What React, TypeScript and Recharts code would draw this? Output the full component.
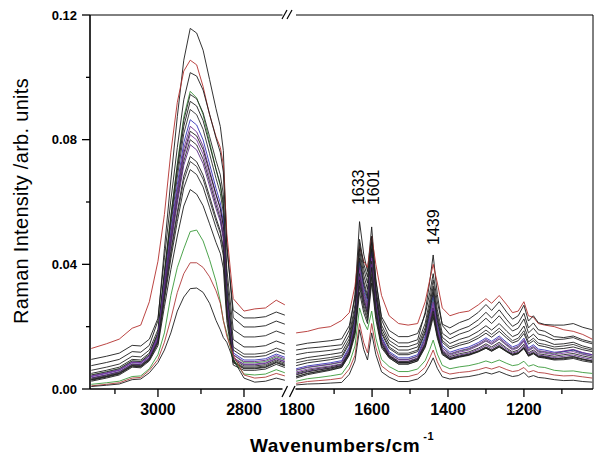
import React from 'react';
import { LineChart, Line, XAxis, YAxis, ReferenceLine, ReferenceDot } from 'recharts';

// wavenumber grids (cm-1) of the two axis segments
const leftWavenumbers = [3155, 3120, 3090, 3060, 3040, 3020, 3000, 2985, 2970, 2955, 2940, 2925, 2910, 2895, 2880, 2865, 2855, 2848, 2840, 2825, 2800, 2775, 2750, 2725, 2705];
const rightWavenumbers = [1800, 1770, 1740, 1710, 1680, 1660, 1645, 1633, 1622, 1612, 1601, 1590, 1575, 1555, 1530, 1505, 1480, 1460, 1448, 1439, 1428, 1415, 1395, 1370, 1345, 1320, 1300, 1285, 1265, 1245, 1230, 1215, 1200, 1188, 1175, 1162, 1145, 1120, 1095, 1070, 1045, 1020];

// Raman intensity of each spectrum, high-wavenumber segment
const leftSpectra: number[][] = [
  [0.0075, 0.0085, 0.0095, 0.012, 0.0118, 0.014, 0.0219, 0.045, 0.0671, 0.0874, 0.1055, 0.1157, 0.1142, 0.1087, 0.0993, 0.0899, 0.0842, 0.0765, 0.0471, 0.0229, 0.0199, 0.0199, 0.0203, 0.0218, 0.0208],
  [0.013, 0.0145, 0.016, 0.0195, 0.0205, 0.028, 0.041, 0.056, 0.076, 0.092, 0.102, 0.1055, 0.104, 0.097, 0.088, 0.081, 0.0775, 0.072, 0.05, 0.029, 0.025, 0.0257, 0.026, 0.0285, 0.027],
  [0.0095, 0.0105, 0.0115, 0.014, 0.0138, 0.016, 0.0227, 0.0421, 0.0606, 0.0775, 0.0928, 0.1015, 0.1004, 0.0959, 0.0882, 0.0805, 0.0759, 0.0696, 0.0453, 0.0253, 0.0228, 0.0228, 0.0232, 0.0247, 0.0237],
  [0.0045, 0.0055, 0.0065, 0.009, 0.0088, 0.011, 0.018, 0.0372, 0.0556, 0.0723, 0.0873, 0.0955, 0.0934, 0.088, 0.0792, 0.0704, 0.0651, 0.0582, 0.0325, 0.011, 0.0084, 0.0084, 0.0088, 0.0103, 0.0093],
  [0.006, 0.007, 0.008, 0.0105, 0.0103, 0.0125, 0.0191, 0.0377, 0.0554, 0.0716, 0.0862, 0.0945, 0.0931, 0.0886, 0.081, 0.0733, 0.0687, 0.0625, 0.0387, 0.0191, 0.0167, 0.0167, 0.0171, 0.0186, 0.0176],
  [0.005, 0.006, 0.007, 0.0095, 0.0093, 0.0115, 0.0181, 0.0364, 0.054, 0.07, 0.0843, 0.0923, 0.0908, 0.0861, 0.0783, 0.0705, 0.0657, 0.0595, 0.0356, 0.0159, 0.0135, 0.0135, 0.0139, 0.0154, 0.0144],
  [0.0045, 0.0055, 0.0065, 0.009, 0.0088, 0.011, 0.0175, 0.0353, 0.0525, 0.068, 0.0819, 0.0897, 0.088, 0.0833, 0.0755, 0.0676, 0.0628, 0.0565, 0.0331, 0.0135, 0.0112, 0.0112, 0.0116, 0.0131, 0.0121],
  [0.004, 0.005, 0.006, 0.0085, 0.0083, 0.0105, 0.0168, 0.034, 0.0505, 0.0656, 0.079, 0.0864, 0.0847, 0.0799, 0.0722, 0.0644, 0.0597, 0.0536, 0.0307, 0.0116, 0.0093, 0.0093, 0.0097, 0.0112, 0.0102],
  [0.0042, 0.0052, 0.0062, 0.0087, 0.0085, 0.0107, 0.0169, 0.0336, 0.0496, 0.0641, 0.0771, 0.0843, 0.0825, 0.0779, 0.0702, 0.0626, 0.058, 0.052, 0.0297, 0.011, 0.0088, 0.0088, 0.0092, 0.0107, 0.0097],
  [0.0035, 0.0045, 0.0055, 0.008, 0.0078, 0.01, 0.016, 0.0325, 0.0483, 0.0626, 0.0756, 0.0827, 0.0812, 0.0768, 0.0695, 0.0623, 0.0579, 0.0522, 0.0306, 0.0125, 0.0103, 0.0103, 0.0107, 0.0122, 0.0112],
  [0.004, 0.005, 0.006, 0.0085, 0.0083, 0.0105, 0.0165, 0.0327, 0.0481, 0.0622, 0.0747, 0.0816, 0.0799, 0.0753, 0.0678, 0.0604, 0.0559, 0.05, 0.0283, 0.0101, 0.008, 0.008, 0.0084, 0.0099, 0.0089],
  [0.003, 0.004, 0.005, 0.0075, 0.0073, 0.0095, 0.0155, 0.0314, 0.0468, 0.0607, 0.0731, 0.08, 0.0783, 0.0737, 0.0665, 0.0591, 0.0546, 0.0489, 0.0275, 0.0095, 0.0074, 0.0074, 0.0078, 0.0093, 0.0083],
  [0.0035, 0.0045, 0.0055, 0.008, 0.0078, 0.01, 0.0158, 0.0313, 0.0463, 0.0597, 0.0718, 0.0784, 0.0767, 0.0723, 0.0651, 0.0579, 0.0537, 0.048, 0.0273, 0.0099, 0.0078, 0.0078, 0.0082, 0.0097, 0.0087],
  [0.003, 0.004, 0.005, 0.0075, 0.0073, 0.0095, 0.0151, 0.0299, 0.0441, 0.0568, 0.0683, 0.0746, 0.0729, 0.0686, 0.0618, 0.0549, 0.0507, 0.0453, 0.0254, 0.0087, 0.0067, 0.0067, 0.0071, 0.0086, 0.0076],
  [0.0032, 0.0042, 0.0052, 0.0077, 0.0075, 0.0097, 0.0152, 0.0296, 0.0433, 0.0558, 0.0669, 0.073, 0.0714, 0.0673, 0.0606, 0.0539, 0.0499, 0.0446, 0.0252, 0.0089, 0.007, 0.007, 0.0074, 0.0089, 0.0079],
  [0.0028, 0.0038, 0.0048, 0.0073, 0.0071, 0.0093, 0.0146, 0.0285, 0.0418, 0.0537, 0.0645, 0.0704, 0.0688, 0.0648, 0.0583, 0.0518, 0.0479, 0.0428, 0.0241, 0.0084, 0.0065, 0.0065, 0.0069, 0.0084, 0.0074],
  [0.0025, 0.0035, 0.0045, 0.007, 0.0068, 0.009, 0.0139, 0.0264, 0.0383, 0.0491, 0.0587, 0.064, 0.0625, 0.0588, 0.053, 0.047, 0.0435, 0.0388, 0.0219, 0.0077, 0.006, 0.006, 0.0064, 0.0079, 0.0069],
  [0.0015, 0.002, 0.0025, 0.004, 0.0042, 0.0065, 0.011, 0.018, 0.03, 0.039, 0.045, 0.0505, 0.051, 0.0475, 0.0415, 0.0345, 0.028, 0.022, 0.018, 0.0095, 0.0048, 0.0045, 0.0048, 0.0062, 0.0052],
  [0.001, 0.0015, 0.002, 0.0035, 0.0037, 0.006, 0.0095, 0.015, 0.0225, 0.031, 0.037, 0.0405, 0.0405, 0.039, 0.036, 0.0315, 0.0275, 0.022, 0.017, 0.011, 0.0045, 0.0035, 0.0038, 0.005, 0.0042],
  [0.0008, 0.0012, 0.0016, 0.003, 0.0032, 0.0052, 0.0085, 0.0125, 0.018, 0.025, 0.0295, 0.0322, 0.0324, 0.031, 0.0275, 0.022, 0.019, 0.0165, 0.015, 0.0095, 0.0035, 0.0022, 0.0025, 0.0035, 0.0028],
];

// Raman intensity of each spectrum, fingerprint segment
const rightSpectra: number[][] = [
  [0.0125, 0.0131, 0.0134, 0.0138, 0.0142, 0.0189, 0.0304, 0.0537, 0.0433, 0.0377, 0.052, 0.0353, 0.0222, 0.0168, 0.0148, 0.0148, 0.0158, 0.0247, 0.0345, 0.043, 0.0303, 0.0204, 0.0175, 0.019, 0.0201, 0.0222, 0.0246, 0.0228, 0.0254, 0.0222, 0.0201, 0.0212, 0.0243, 0.0196, 0.0212, 0.019, 0.0185, 0.0168, 0.0165, 0.017, 0.0158, 0.015],
  [0.018, 0.0185, 0.0195, 0.02, 0.022, 0.0245, 0.033, 0.0457, 0.041, 0.039, 0.049, 0.04, 0.03, 0.0235, 0.021, 0.0205, 0.021, 0.028, 0.035, 0.04, 0.034, 0.026, 0.0235, 0.0245, 0.025, 0.027, 0.029, 0.0275, 0.03, 0.027, 0.0245, 0.025, 0.028, 0.0235, 0.023, 0.021, 0.0205, 0.02, 0.019, 0.0185, 0.0175, 0.016],
  [0.014, 0.0147, 0.0151, 0.0155, 0.0161, 0.0203, 0.0293, 0.048, 0.0402, 0.036, 0.049, 0.0345, 0.0232, 0.0188, 0.0168, 0.0168, 0.0178, 0.0239, 0.0309, 0.037, 0.0279, 0.0208, 0.0196, 0.0213, 0.0224, 0.0246, 0.0271, 0.0252, 0.028, 0.0246, 0.0224, 0.0235, 0.0269, 0.0218, 0.0235, 0.0213, 0.0207, 0.0205, 0.0205, 0.021, 0.0198, 0.019],
  [0.006, 0.0069, 0.0074, 0.0079, 0.0086, 0.0129, 0.0217, 0.04, 0.0316, 0.027, 0.043, 0.0279, 0.0162, 0.0115, 0.0095, 0.0095, 0.0105, 0.0163, 0.0232, 0.029, 0.0202, 0.0134, 0.0111, 0.0121, 0.0128, 0.0141, 0.0155, 0.0144, 0.016, 0.0141, 0.0128, 0.0134, 0.0154, 0.0124, 0.0134, 0.0121, 0.0118, 0.0112, 0.012, 0.0125, 0.0113, 0.0105],
  [0.011, 0.0117, 0.012, 0.0124, 0.013, 0.0173, 0.027, 0.047, 0.0386, 0.034, 0.048, 0.0325, 0.0205, 0.0156, 0.0136, 0.0136, 0.0146, 0.0211, 0.0286, 0.035, 0.0254, 0.0179, 0.0161, 0.0176, 0.0186, 0.0205, 0.0227, 0.021, 0.0235, 0.0205, 0.0186, 0.0195, 0.0225, 0.018, 0.0195, 0.0176, 0.0171, 0.0158, 0.016, 0.0165, 0.0153, 0.0145],
  [0.0093, 0.0101, 0.0106, 0.0111, 0.0117, 0.0161, 0.0255, 0.045, 0.0366, 0.032, 0.047, 0.0315, 0.0194, 0.0145, 0.0125, 0.0125, 0.0135, 0.0197, 0.0269, 0.033, 0.0238, 0.0166, 0.0146, 0.0159, 0.0168, 0.0185, 0.0203, 0.0189, 0.021, 0.0185, 0.0168, 0.0176, 0.0202, 0.0163, 0.0176, 0.0159, 0.0155, 0.0143, 0.0145, 0.015, 0.0138, 0.013],
  [0.0084, 0.0092, 0.0096, 0.0101, 0.0107, 0.0151, 0.0243, 0.0435, 0.0347, 0.03, 0.046, 0.0305, 0.0184, 0.0135, 0.0115, 0.0115, 0.0125, 0.0187, 0.0259, 0.032, 0.0228, 0.0156, 0.0135, 0.0147, 0.0155, 0.0171, 0.0189, 0.0175, 0.0195, 0.0171, 0.0155, 0.0163, 0.0187, 0.0151, 0.0163, 0.0147, 0.0143, 0.0135, 0.0138, 0.0143, 0.0132, 0.0125],
  [0.0065, 0.0074, 0.0079, 0.0084, 0.0091, 0.0135, 0.0224, 0.041, 0.0326, 0.028, 0.044, 0.0287, 0.0168, 0.012, 0.01, 0.01, 0.011, 0.017, 0.024, 0.03, 0.021, 0.014, 0.0118, 0.0128, 0.0135, 0.0149, 0.0164, 0.0153, 0.017, 0.0149, 0.0135, 0.0142, 0.0163, 0.0132, 0.0142, 0.0128, 0.0125, 0.0118, 0.012, 0.0125, 0.0116, 0.011],
  [0.0061, 0.007, 0.0075, 0.008, 0.0087, 0.0129, 0.0213, 0.039, 0.0309, 0.0265, 0.0425, 0.0277, 0.0161, 0.0115, 0.0095, 0.0095, 0.0105, 0.016, 0.0225, 0.028, 0.0197, 0.0132, 0.0113, 0.0123, 0.013, 0.0144, 0.0159, 0.0148, 0.0165, 0.0144, 0.013, 0.0137, 0.0158, 0.0127, 0.0137, 0.0123, 0.012, 0.0115, 0.0122, 0.0127, 0.0117, 0.011],
  [0.0075, 0.0084, 0.0089, 0.0094, 0.0101, 0.0145, 0.0234, 0.042, 0.0336, 0.029, 0.045, 0.0297, 0.0178, 0.013, 0.011, 0.011, 0.012, 0.018, 0.025, 0.031, 0.022, 0.015, 0.0129, 0.014, 0.0148, 0.0163, 0.0179, 0.0166, 0.0185, 0.0163, 0.0148, 0.0155, 0.0178, 0.0144, 0.0155, 0.014, 0.0136, 0.0128, 0.013, 0.0135, 0.0126, 0.012],
  [0.0055, 0.0064, 0.0069, 0.0074, 0.0081, 0.0123, 0.0206, 0.038, 0.0302, 0.026, 0.042, 0.0272, 0.0156, 0.011, 0.009, 0.009, 0.01, 0.0153, 0.0216, 0.027, 0.0189, 0.0126, 0.0108, 0.0118, 0.0125, 0.0139, 0.0154, 0.0143, 0.016, 0.0139, 0.0125, 0.0132, 0.0153, 0.0122, 0.0132, 0.0118, 0.0115, 0.011, 0.0115, 0.012, 0.0111, 0.0105],
  [0.0051, 0.006, 0.0066, 0.0071, 0.0079, 0.0121, 0.0201, 0.037, 0.0292, 0.025, 0.041, 0.0265, 0.0152, 0.0108, 0.0088, 0.0088, 0.0098, 0.0148, 0.0208, 0.026, 0.0183, 0.0122, 0.0104, 0.0113, 0.0119, 0.0131, 0.0145, 0.0135, 0.015, 0.0131, 0.0119, 0.0125, 0.0144, 0.0116, 0.0125, 0.0113, 0.011, 0.0105, 0.011, 0.0114, 0.0106, 0.01],
  [0.0048, 0.0057, 0.0063, 0.0068, 0.0076, 0.0117, 0.0195, 0.036, 0.0286, 0.0245, 0.04, 0.0258, 0.0148, 0.0105, 0.0085, 0.0085, 0.0095, 0.0146, 0.0208, 0.026, 0.0181, 0.012, 0.01, 0.0109, 0.0115, 0.0127, 0.014, 0.013, 0.0145, 0.0127, 0.0115, 0.0121, 0.0139, 0.0112, 0.0121, 0.0109, 0.0106, 0.0101, 0.0105, 0.0109, 0.0101, 0.0095],
  [0.0045, 0.0055, 0.0061, 0.0067, 0.0075, 0.0116, 0.0191, 0.035, 0.0279, 0.024, 0.039, 0.0253, 0.0146, 0.0105, 0.0085, 0.0085, 0.0095, 0.0143, 0.0201, 0.025, 0.0176, 0.0118, 0.0098, 0.0106, 0.0112, 0.0122, 0.0134, 0.0125, 0.0138, 0.0122, 0.0112, 0.0117, 0.0133, 0.0109, 0.0117, 0.0106, 0.0104, 0.0097, 0.01, 0.0104, 0.0096, 0.009],
  [0.004, 0.005, 0.0056, 0.0062, 0.007, 0.0111, 0.0184, 0.034, 0.0269, 0.023, 0.037, 0.024, 0.0138, 0.01, 0.008, 0.008, 0.009, 0.0138, 0.0196, 0.0245, 0.0171, 0.0113, 0.0095, 0.0104, 0.011, 0.0122, 0.0135, 0.0125, 0.014, 0.0122, 0.011, 0.0116, 0.0134, 0.0107, 0.0116, 0.0104, 0.0101, 0.0096, 0.01, 0.0104, 0.0096, 0.009],
  [0.0039, 0.005, 0.0057, 0.0064, 0.0073, 0.0114, 0.0182, 0.033, 0.0259, 0.022, 0.036, 0.0236, 0.0139, 0.0104, 0.0084, 0.0084, 0.0094, 0.0139, 0.0193, 0.024, 0.017, 0.0115, 0.0097, 0.0104, 0.011, 0.012, 0.0131, 0.0122, 0.0135, 0.012, 0.011, 0.0115, 0.013, 0.0107, 0.0115, 0.0104, 0.0102, 0.0096, 0.0097, 0.0101, 0.0094, 0.0088],
  [0.0035, 0.0046, 0.0053, 0.006, 0.0069, 0.0108, 0.0172, 0.031, 0.0245, 0.021, 0.034, 0.0223, 0.0132, 0.01, 0.008, 0.008, 0.009, 0.0133, 0.0185, 0.023, 0.0163, 0.011, 0.0094, 0.0102, 0.0108, 0.0119, 0.0131, 0.0121, 0.0135, 0.0119, 0.0108, 0.0113, 0.013, 0.0105, 0.0113, 0.0102, 0.0099, 0.0093, 0.0094, 0.0098, 0.009, 0.0085],
  [0.0025, 0.0033, 0.0037, 0.0042, 0.0048, 0.0082, 0.0138, 0.026, 0.0215, 0.019, 0.025, 0.0163, 0.0095, 0.0072, 0.0056, 0.0056, 0.0064, 0.0091, 0.0127, 0.0157, 0.0112, 0.0076, 0.0065, 0.0071, 0.0075, 0.0082, 0.009, 0.0084, 0.0093, 0.0082, 0.0075, 0.0078, 0.0089, 0.0073, 0.0078, 0.0071, 0.0069, 0.006, 0.0057, 0.0058, 0.0053, 0.005],
  [0.0018, 0.0024, 0.0027, 0.003, 0.0035, 0.0064, 0.0108, 0.021, 0.0149, 0.0116, 0.021, 0.0134, 0.0074, 0.0055, 0.004, 0.004, 0.0048, 0.007, 0.01, 0.0125, 0.0087, 0.0057, 0.0048, 0.0053, 0.0056, 0.0062, 0.0069, 0.0064, 0.0072, 0.0062, 0.0056, 0.0059, 0.0069, 0.0054, 0.0059, 0.0053, 0.0051, 0.0045, 0.0042, 0.0043, 0.0039, 0.0035],
  [0.0013, 0.0016, 0.0017, 0.0019, 0.0021, 0.0047, 0.009, 0.019, 0.0127, 0.0093, 0.018, 0.011, 0.0055, 0.0038, 0.0024, 0.0024, 0.0032, 0.0051, 0.0077, 0.01, 0.0066, 0.0039, 0.0032, 0.0037, 0.004, 0.0046, 0.0053, 0.0048, 0.0056, 0.0046, 0.004, 0.0043, 0.0053, 0.0038, 0.0043, 0.0037, 0.0035, 0.003, 0.0027, 0.0028, 0.0024, 0.0022],
];

const seriesColors = [
  '#1c1c1c', '#b3302e', '#1c1c1c', '#3a8f3a', '#262626', '#1c1c1c', '#303030', '#3535b5', '#6a2c90', '#1c1c1c',
  '#7b3b9f', '#262626', '#5a2a86', '#1c1c1c', '#333333', '#222222', '#1c1c1c', '#3a9a3a', '#b03a3a', '#1c1c1c',
];

const yTicks = [0, 0.02, 0.04, 0.06, 0.08, 0.1, 0.12];
const yMajorTicks = [0, 0.04, 0.08, 0.12];
const leftTicks = [3100, 3000, 2900, 2800];
const rightTicks = [1800, 1700, 1600, 1500, 1400, 1300, 1200, 1100];
const xMajorTicks = [3000, 2800, 1800, 1600, 1400, 1200];
const peakLabels = [
  { label: '1633', w: 1637, y: 0.059 },
  { label: '1601', w: 1595, y: 0.059 },
  { label: '1439', w: 1439, y: 0.0462 },
];

const FONT = '"Liberation Sans", Arial, Helvetica, sans-serif';

function buildRows(wn: number[], spectra: number[][]) {
  return wn.map((w, i) => {
    const row: Record<string, number> = { w };
    spectra.forEach((s, k) => {
      row['s' + k] = s[i];
    });
    return row;
  });
}

const leftData = buildRows(leftWavenumbers, leftSpectra);
const rightData = buildRows(rightWavenumbers, rightSpectra);

function XTick(props: any) {
  const { x, y, payload } = props;
  const v = payload.value;
  const major = xMajorTicks.includes(v);
  return (
    <g>
      {v !== 1800 && (
        <line x1={x} x2={x} y1={y} y2={y + (major ? 8 : 5)} stroke="#000" strokeWidth={1.3} />
      )}
      {major && (
        <text x={v === 1800 ? x + 1 : x} y={y + 26} textAnchor="middle" fontFamily={FONT} fontSize={16} fontWeight="bold" fill="#000">
          {v}
        </text>
      )}
    </g>
  );
}

function YTick(props: any) {
  const { x, y, payload } = props;
  const v = payload.value;
  const major = yMajorTicks.includes(v);
  return (
    <g>
      <line x1={x - (major ? 8 : 4)} x2={x} y1={y} y2={y} stroke="#000" strokeWidth={1.3} />
      {major && (
        <text x={x - 13} y={y} dy="0.36em" textAnchor="end" fontFamily={FONT} fontSize={13} fontWeight="bold" fill="#000">
          {v.toFixed(2)}
        </text>
      )}
    </g>
  );
}

const axisLineStyle = { stroke: '#000', strokeWidth: 1.6 };

export default function App() {
  return (
    <div style={{ position: 'absolute', left: 0, top: 0, width: 600, height: 467, background: '#fff', overflow: 'hidden' }}>
      <div style={{ position: 'absolute', left: 0, top: 0 }}>
        <LineChart width={290} height={467} data={leftData} margin={{ top: 15, right: 3, bottom: 48, left: 40 }}>
          <XAxis
            dataKey="w"
            type="number"
            domain={[2700, 3158]}
            reversed
            allowDataOverflow
            ticks={leftTicks}
            interval={0}
            tickSize={0}
            tickMargin={0}
            tickLine={false}
            tick={(p: any) => <XTick {...p} />}
            height={30}
            axisLine={axisLineStyle}
          />
          <YAxis
            type="number"
            domain={[0, 0.12]}
            ticks={yTicks}
            interval={0}
            tickSize={0}
            tickMargin={0}
            tickLine={false}
            tick={(p: any) => <YTick {...p} />}
            width={50}
            axisLine={axisLineStyle}
            allowDataOverflow
          />
          <ReferenceLine y={0.12} stroke="#000" strokeWidth={1} />
          {leftSpectra.map((_, k) => (
            <Line key={k} type="linear" dataKey={'s' + k} stroke={seriesColors[k]} strokeWidth={0.9} dot={false} isAnimationActive={false} />
          ))}
        </LineChart>
      </div>
      <div style={{ position: 'absolute', left: 260, top: 0 }}>
        <LineChart width={340} height={467} data={rightData} margin={{ top: 15, right: 7, bottom: 48, left: 35 }}>
          <XAxis
            dataKey="w"
            type="number"
            domain={[1018, 1803]}
            reversed
            allowDataOverflow
            ticks={rightTicks}
            interval={0}
            tickSize={0}
            tickMargin={0}
            tickLine={false}
            tick={(p: any) => <XTick {...p} />}
            height={30}
            axisLine={axisLineStyle}
          />
          <YAxis hide type="number" domain={[0, 0.12]} allowDataOverflow />
          <ReferenceLine y={0.12} stroke="#000" strokeWidth={1} />
          <ReferenceLine x={1018} stroke="#000" strokeWidth={1} />
          {rightSpectra.map((_, k) => (
            <Line key={k} type="linear" dataKey={'s' + k} stroke={seriesColors[k]} strokeWidth={0.9} dot={false} isAnimationActive={false} />
          ))}
          {peakLabels.map((p) => (
            <ReferenceDot
              key={p.label}
              x={p.w}
              y={p.y}
              r={1}
              fill="none"
              stroke="none"
              label={{
                content: (lp: any) => {
                  const vb = lp.viewBox || { x: 0, y: 0, width: 0, height: 0 };
                  const cx = vb.x + (vb.width || 0) / 2;
                  const cy = vb.y + (vb.height || 0) / 2;
                  return (
                    <text
                      x={cx}
                      y={cy}
                      transform={`rotate(-90 ${cx} ${cy})`}
                      dominantBaseline="central"
                      fontFamily={FONT}
                      fontSize={16}
                      fill="#000"
                    >
                      {p.label}
                    </text>
                  );
                },
              }}
            />
          ))}
        </LineChart>
      </div>
      <svg width={600} height={467} style={{ position: 'absolute', left: 0, top: 0, pointerEvents: 'none' }}>
        <rect x={282.5} y={12} width={13.5} height={6} fill="#fff" />
        <rect x={282.5} y={386.5} width={13} height={5.5} fill="#fff" />
        <line x1={282} y1={19} x2={287} y2={10} stroke="#000" strokeWidth={1.2} />
        <line x1={287} y1={19} x2={292} y2={10} stroke="#000" strokeWidth={1.2} />
        <line x1={282} y1={397} x2={287.5} y2={386} stroke="#000" strokeWidth={1.2} />
        <line x1={289.5} y1={397} x2={295} y2={386} stroke="#000" strokeWidth={1.2} />
        <text x={250} y={452} fontFamily={FONT} fontSize={19} fontWeight="bold" letterSpacing={0.6} fill="#000">
          Wavenumbers/cm
          <tspan dx={3} dy={-12} fontSize={11}>-1</tspan>
        </text>
        <text
          x={-201}
          y={28}
          transform="rotate(-90)"
          textAnchor="middle"
          fontFamily={FONT}
          fontSize={20}
          letterSpacing={0.3}
          fill="#000"
        >
          Raman Intensity /arb. units
        </text>
      </svg>
    </div>
  );
}
